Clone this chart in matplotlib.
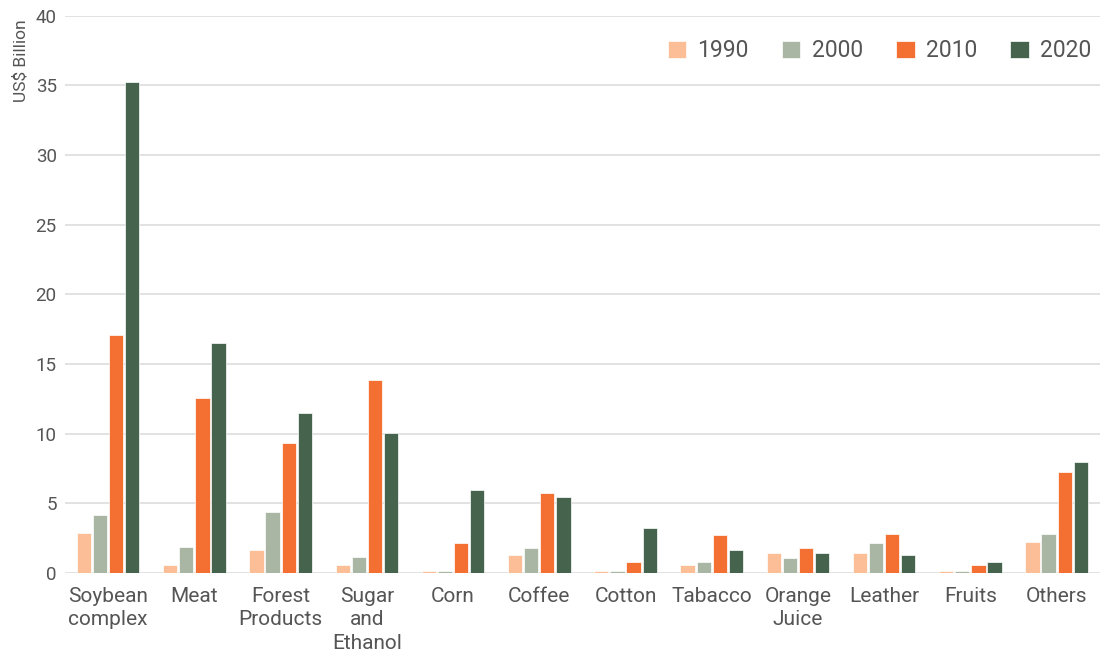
import numpy as np
import matplotlib
matplotlib.use("Agg")
import matplotlib.pyplot as plt

plt.rcParams['font.family'] = ['Roboto', 'DejaVu Sans']

categories = ["Soybean\ncomplex", "Meat", "Forest\nProducts", "Sugar\nand\nEthanol", "Corn",
              "Coffee", "Cotton", "Tabacco", "Orange\nJuice", "Leather", "Fruits", "Others"]
years = ["1990", "2000", "2010", "2020"]
v1990 = [2.87, 0.57, 1.65, 0.57, 0.1, 1.27, 0.1, 0.55, 1.41, 1.41, 0.1, 2.22]
v2000 = [4.16, 1.87, 4.40, 1.15, 0.1, 1.77, 0.1, 0.79, 1.05, 2.13, 0.1, 2.82]
v2010 = [17.1, 12.56, 9.33, 13.85, 2.13, 5.72, 0.79, 2.70, 1.77, 2.82, 0.55, 7.25]
v2020 = [35.25, 16.5, 11.48, 10.05, 5.93, 5.45, 3.20, 1.65, 1.41, 1.29, 0.79, 7.97]
colors = ["#fbbe97", "#aab6a4", "#f37032", "#46634d"]

series = [v1990, v2000, v2010, v2020]
x = np.arange(len(categories))

fig = plt.figure(figsize=(11.03, 6.6), dpi=100)
ax = fig.add_axes([0.059, 0.132, 0.938, 0.844])

step = 0.187
for i, (vals, c, yr) in enumerate(zip(series, colors, years)):
    ax.bar(x + (i - 1.5) * step, vals, width=0.165, color=c, edgecolor="white",
           linewidth=0.5, label=yr, zorder=3)

ax.set_xlim(-0.5, 11.5)
ax.set_ylim(0, 40)
ax.set_yticks(range(0, 41, 5))
ax.yaxis.grid(True, color="#dddddd", linewidth=1.2, zorder=0)
for s in ax.spines.values():
    s.set_visible(False)
ax.tick_params(axis="both", length=0, colors="#555555")
ax.tick_params(axis="y", labelsize=13.5, pad=6)
ax.tick_params(axis="x", labelsize=15, pad=10)
ax.set_xticks(x)
ax.set_xticklabels(categories, linespacing=1.3, va="top")
ax.set_ylabel("US$ Billion", fontsize=12.5, color="#555555")
ax.yaxis.set_label_coords(-0.035, 0.92)

leg = ax.legend(loc="upper right", ncol=4, frameon=False, fontsize=16.5,
                handlelength=0.8, handleheight=0.8, handletextpad=0.5,
                columnspacing=1.45, bbox_to_anchor=(1.012, 0.995))
for t in leg.get_texts():
    t.set_color("#555555")

fig.savefig("out.png", dpi=100)
